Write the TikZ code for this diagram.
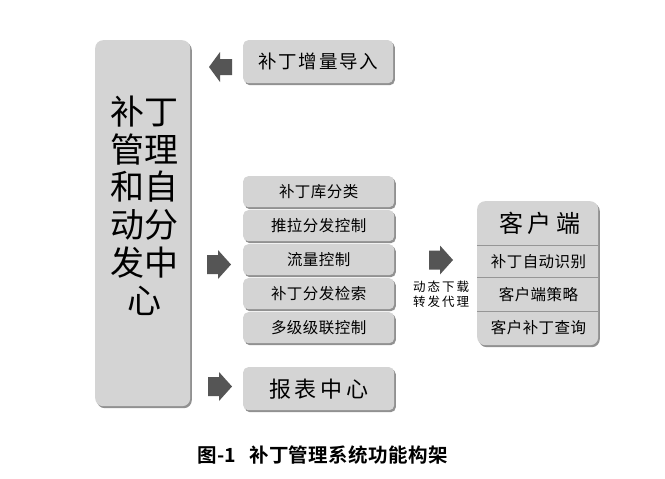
\documentclass[tikz,border=0pt]{standalone}
\usepackage{fontspec}
\setmainfont{Noto Sans CJK SC}
\newfontfamily\spA[LetterSpace=3]{Noto Sans CJK SC}
\newfontfamily\spB[LetterSpace=9]{Noto Sans CJK SC}
\newfontfamily\spC[LetterSpace=17]{Noto Sans CJK SC}
\newfontfamily\spD[LetterSpace=19]{Noto Sans CJK SC}
\newfontfamily\spE[LetterSpace=16]{Noto Sans CJK SC}
\newfontfamily\capfont[LetterSpace=2]{Noto Sans CJK SC Bold}
\usetikzlibrary{shadows}
\definecolor{boxfill}{RGB}{212,212,212}
\definecolor{boxshadow}{RGB}{145,145,145}
\definecolor{arrowgray}{RGB}{85,85,85}
\definecolor{divdark}{RGB}{150,150,150}
\begin{document}
\begin{tikzpicture}[x=1pt,y=-1pt,
  gbox/.style={draw=none, fill=boxfill, rounded corners=5pt, inner sep=0pt,
    anchor=north west,
    drop shadow={shadow xshift=1.6pt, shadow yshift=-2pt, fill=boxshadow, opacity=1}},
  bigbox/.style={gbox, rounded corners=8pt},
  itemtext/.style={font=\spA\fontsize{15.5}{18}\selectfont, inner sep=0pt},
  rarrow/.pic={\fill[arrowgray] (0,-9.5) -- (11,-9.5) -- (11,-14.5) -- (24,0) -- (11,14.5) -- (11,9.5) -- (0,9.5) -- cycle;},
  larrow/.pic={\fill[arrowgray] (0,-8) -- (-12,-8) -- (-12,-15) -- (-23,0) -- (-12,15) -- (-12,8) -- (0,8) -- cycle;},
  divider/.style={draw=divdark, line width=1pt}
]
\useasboundingbox[fill=white] (0,0) rectangle (665,479);

% big left box
\node[bigbox, minimum width=95pt, minimum height=366pt] (center) at (95,40) {};
\node[font=\fontsize{34}{37.8}\selectfont, align=center, inner sep=0pt] (centertext) at (144.5,205.5)
  {补丁\\管理\\和自\\动分\\发中\\心};

% import box
\node[gbox, minimum width=150pt, minimum height=43pt, font=\spB\fontsize{18.5}{22}\selectfont] (import) at (243,40) {补丁增量导入};
\pic at (232,67) {larrow};

% stack
\node[gbox, minimum width=151pt, minimum height=31pt, itemtext] (s1) at (243,176) {补丁库分类};
\node[gbox, minimum width=151pt, minimum height=31pt, itemtext] (s2) at (243,210) {推拉分发控制};
\node[gbox, minimum width=151pt, minimum height=31pt, itemtext] (s3) at (243,244) {流量控制};
\node[gbox, minimum width=151pt, minimum height=31pt, itemtext] (s4) at (243,278) {补丁分发检索};
\node[gbox, minimum width=151pt, minimum height=31pt, itemtext] (s5) at (243,312) {多级级联控制};
\pic at (207,264.5) {rarrow};

% report
\node[gbox, minimum width=151pt, minimum height=43pt, font=\spC\fontsize{22}{26}\selectfont] (report) at (243,367) {报表中心};
\pic at (208,386.5) {rarrow};

% client
\pic at (429,260) {rarrow};
\node[font=\spE\fontsize{12.5}{15}\selectfont, align=center, inner sep=0pt] (proxy) at (441,294.5) {动态下载\\转发代理};

\node[bigbox, minimum width=121pt, minimum height=144pt] (client) at (477,201) {};
\coordinate (d1) at (0,245);
\coordinate (d2) at (0,277.5);
\coordinate (d3) at (0,311);
\draw[divider] (client.west |- d1) -- (client.east |- d1);
\draw[divider] (client.west |- d2) -- (client.east |- d2);
\draw[divider] (client.west |- d3) -- (client.east |- d3);
\node[font=\spD\fontsize{24}{28}\selectfont, inner sep=0pt] (ctitle) at (540,223.5) {客户端};
\node[itemtext] (c1) at (538.5,261.5) {补丁自动识别};
\node[itemtext] (c2) at (538.5,294.5) {客户端策略};
\node[itemtext] (c3) at (538.5,328) {客户补丁查询};

% caption
\node[font=\capfont\fontsize{19.5}{23}\selectfont, inner sep=0pt, anchor=west] (caption) at (197,455.5) {图-1\hspace{13pt}补丁管理系统功能构架};
\end{tikzpicture}
\end{document}
